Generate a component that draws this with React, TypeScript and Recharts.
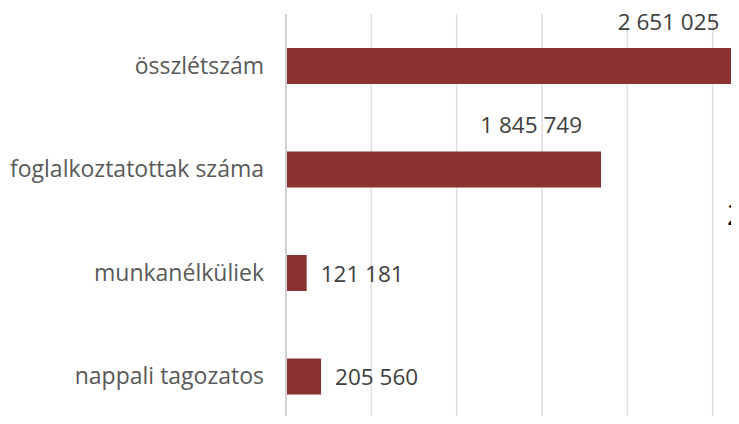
import { BarChart, Bar, XAxis, YAxis, CartesianGrid, LabelList } from "recharts";

const categories = [
  "összlétszám",
  "foglalkoztatottak száma",
  "munkanélküliek",
  "nappali tagozatos",
];
const values = [2651025, 1845749, 121181, 205560];
const xTicks = [0, 500000, 1000000, 1500000, 2000000, 2500000, 3000000];

const data = categories.map((name, i) => ({ name, value: values[i] }));

const fontFamily = "'Open Sans', sans-serif";
const barColor = "#8b3332";
const labelColor = "#404040";
const tickColor = "#595959";

const fmt = (v: number) => String(v).replace(/\B(?=(\d{3})+(?!\d))/g, " ");

const renderValueLabel = (props: any) => {
  const { x, y, width, height, value } = props;
  const text = fmt(Number(value));
  if (width > 200) {
    return (
      <text
        x={x + width - 19}
        y={y - 27}
        textAnchor="end"
        dominantBaseline="central"
        fill={labelColor}
        fontFamily={fontFamily}
        fontSize={22.5}
      >
        {text}
      </text>
    );
  }
  return (
    <text
      x={x + width + 14}
      y={y + height / 2}
      textAnchor="start"
      dominantBaseline="central"
      fill={labelColor}
      fontFamily={fontFamily}
      fontSize={22.5}
    >
      {text}
    </text>
  );
};

export default function App() {
  return (
    <div
      style={{
        position: "relative",
        margin: -8,
        width: 739,
        height: 424,
        overflow: "hidden",
        background: "#fff",
      }}
    >
      <BarChart
        width={812}
        height={442}
        layout="vertical"
        data={data}
        margin={{ top: 14, right: 14, bottom: 14, left: 0 }}
      >
        <CartesianGrid horizontal={false} stroke="#dedede" strokeWidth={1.5} />
        <XAxis type="number" domain={[0, 3000000]} ticks={xTicks} hide />
        <YAxis
          type="category"
          dataKey="name"
          width={286}
          axisLine={{ stroke: "#d0d0d0", strokeWidth: 2 }}
          tickLine={false}
          tickMargin={16}
          tick={{ fill: tickColor, fontFamily, fontSize: 23 }}
        />
        <Bar dataKey="value" fill={barColor} barSize={36} isAnimationActive={false}>
          <LabelList dataKey="value" content={renderValueLabel} />
        </Bar>
      </BarChart>
      <div
        style={{
          position: "absolute",
          left: 727,
          top: 196,
          fontFamily,
          fontSize: 29,
          color: "#000",
          lineHeight: "36px",
        }}
      >
        2
      </div>
    </div>
  );
}
